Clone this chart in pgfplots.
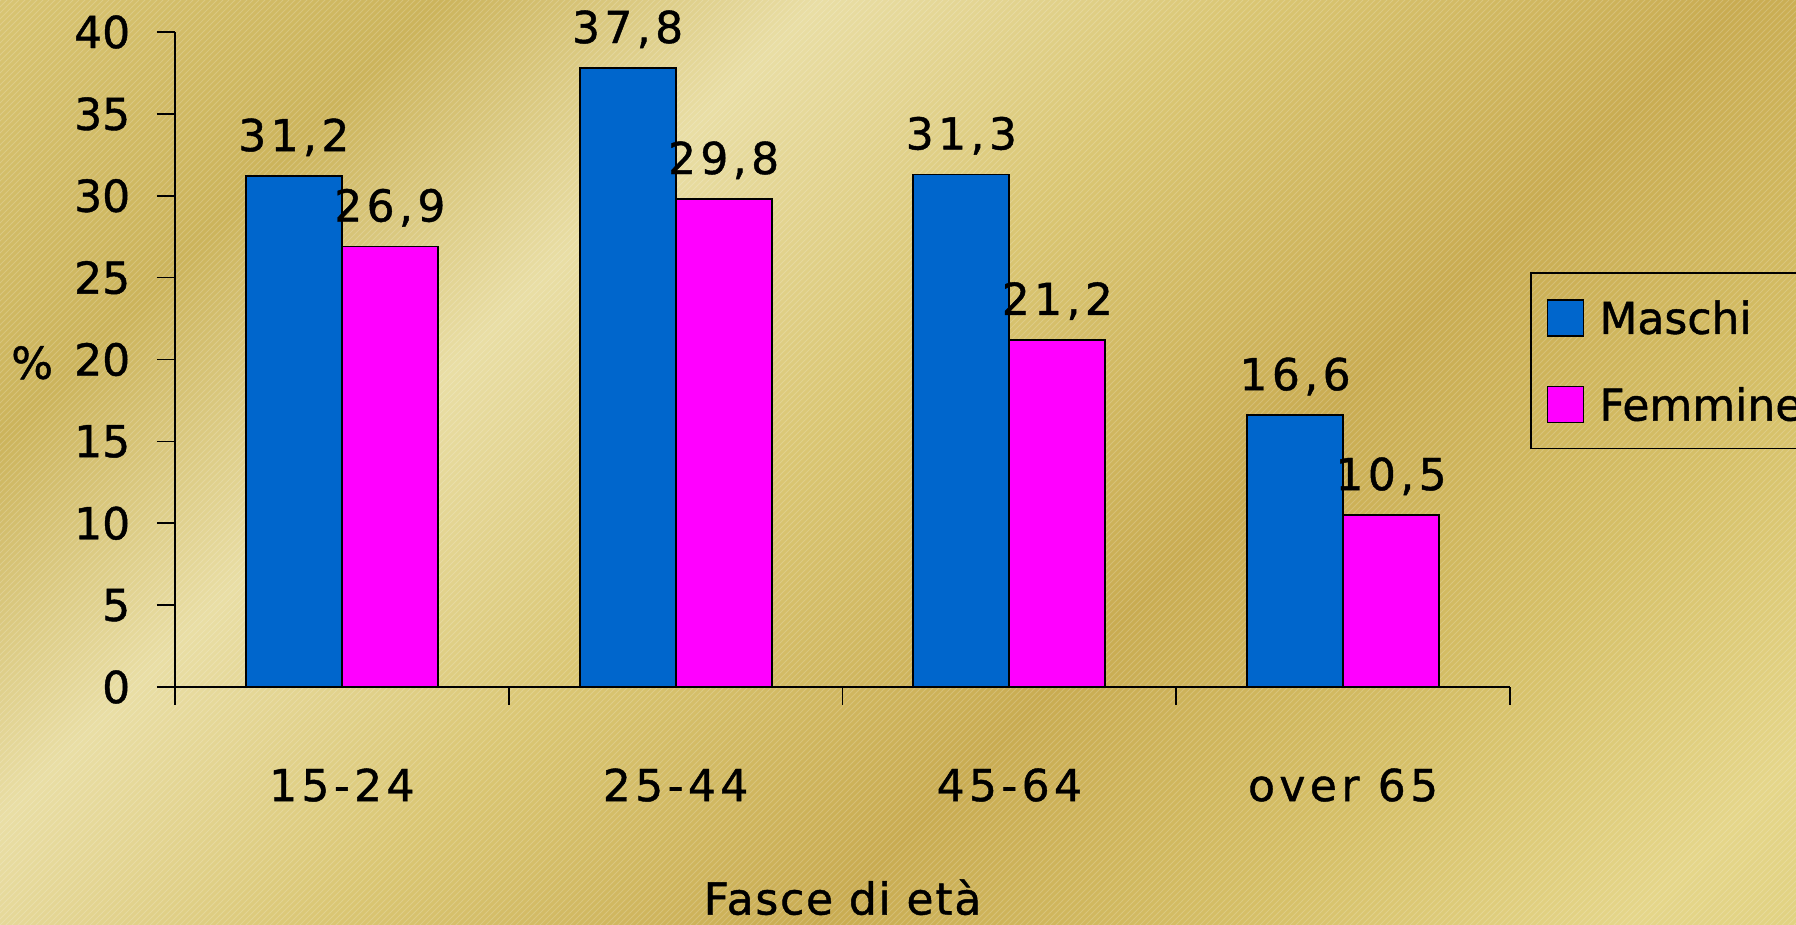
\documentclass[border=0pt]{standalone}
\usepackage{fontspec}
\setmainfont[FakeBold=1]{DejaVu Sans}
\newfontfamily\lsfont[LetterSpace=10,FakeBold=1]{DejaVu Sans}
\newfontfamily\lsfontb[LetterSpace=4,FakeBold=1]{DejaVu Sans}
\usepackage{pgfplots}
\pgfplotsset{compat=1.18}
\usetikzlibrary{patterns,calc}
\pgfdeclarelayer{background}
\pgfsetlayers{background,main}
\definecolor{g0}{RGB}{216,196,114}
\definecolor{g1}{RGB}{204,180,92}
\definecolor{g2}{RGB}{233,222,165}
\definecolor{g3}{RGB}{218,198,115}
\definecolor{g4}{RGB}{201,172,82}
\definecolor{g5}{RGB}{214,192,104}
\definecolor{g6}{RGB}{229,214,138}
\definecolor{g7}{RGB}{225,210,130}
\definecolor{mblue}{RGB}{0,102,204}
\definecolor{mmag}{RGB}{255,0,255}
\pgfdeclarehorizontalshading{gold}{100bp}{color(0bp)=(g0); color(25bp)=(g0); color(33bp)=(g1); color(40bp)=(g2); color(48bp)=(g3); color(57bp)=(g4); color(65bp)=(g5); color(72bp)=(g6); color(75bp)=(g7); color(100bp)=(g7)}
\newcommand{\fs}{\fontsize{22}{26}\selectfont}
\newcommand{\ls}{\lsfont\fontsize{22}{26}\selectfont}
\pgfplotstableread{
x maschi femmine
0 31.2 26.9
1 37.8 29.8
2 31.3 21.2
3 16.6 10.5
}\datatable
\begin{document}
\begin{tikzpicture}[x=1pt,y=1pt]
\begin{axis}[
  scale only axis, width=667.5pt, height=327.5pt,
  xmin=-0.5, xmax=3.5, ymin=0, ymax=40,
  axis x line=bottom, axis y line=left,
  axis line style={-, line width=0.85pt, black},
  ybar=0pt, bar width=48pt,
  ytick={0,5,...,40},
  xtick={-0.5,0.5,1.5,2.5,3.5}, xticklabels={},
  extra x ticks={0,1,2,3},
  extra x tick labels={{\ls 15-24},{\ls 25-44},{\ls 45-64},{\ls over 65}},
  extra x tick style={major tick length=0pt},
  tick align=outside, major tick length=9pt,
  tick style={black, line width=0.85pt},
  /pgf/number format/assume math mode=true,
  tick label style={font=\fs},
  yticklabel style={anchor=east, inner sep=0pt, xshift=-13.2pt},
  xticklabel style={anchor=north, inner sep=0pt, yshift=-40.5pt},
  ylabel={\%},
  ylabel style={rotate=-90, at={(axis description cs:-0.107,0.495)}, anchor=center, font=\fs},
  xlabel={\lsfontb Fasce di età},
  xlabel style={at={(axis description cs:0.5,-0.321)}, anchor=center, font=\fs},
  nodes near coords={\ls\pgfmathprintnumber[fixed,fixed zerofill,precision=1,use comma,assume math mode=true]{\pgfplotspointmeta}},
  nodes near coords style={anchor=base, inner sep=0pt, yshift=12.5pt, text=black},
  legend style={at={(axis description cs:1.015,0.6336)}, anchor=north west,
    draw=black, line width=0.85pt, fill=none, font=\fs,
    inner xsep=8pt, inner ysep=12.5pt, row sep=24pt,
    nodes={inner sep=0pt, text height=18pt, text depth=0pt},
    /tikz/every odd column/.append style={column sep=7.5pt}},
  legend cell align=left,
  legend image code/.code={\draw[#1, line width=0.8pt] (0pt,-10pt) rectangle (18pt,8pt);},
]
\addplot[fill=mblue, draw=black, line width=0.9pt] table[x=x, y=maschi] {\datatable};
\addplot[fill=mmag, draw=black, line width=0.9pt] table[x=x, y=femmine] {\datatable};
\legend{Maschi, Femmine}
\coordinate (bl) at (rel axis cs:0,0);
\end{axis}
\pgfresetboundingbox
\begin{scope}[shift={($(bl)+(-87.5,-119)$)}]
\useasboundingbox (0,0) rectangle (898,462.5);
\begin{pgfonlayer}{background}
\clip (0,0) rectangle (898,462.5);
\shade[shading=gold, shading angle=-45] (-32,-249.75) rectangle (930,712.25);
\fill[pattern=north east lines, pattern color=white, opacity=0.18] (0,0) rectangle (898,462.5);
\end{pgfonlayer}
\end{scope}
\end{tikzpicture}
\end{document}
